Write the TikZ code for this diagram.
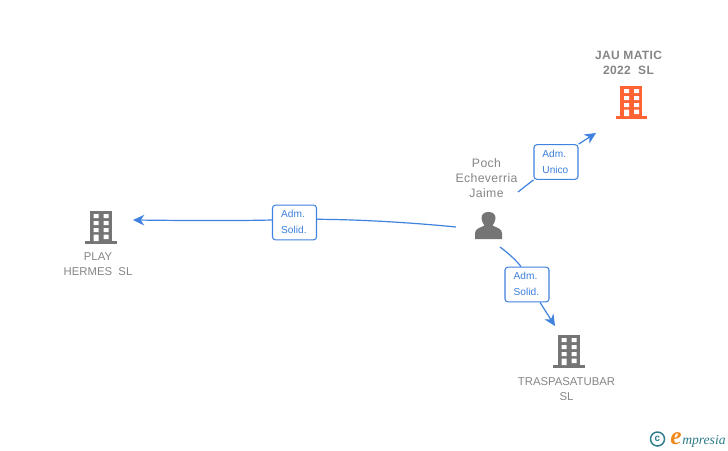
\documentclass[tikz,border=0pt]{standalone}
\usepackage{fontspec}
\setmainfont{Liberation Sans}
\newfontfamily\logofont{Liberation Serif}
\newfontfamily\spacedfont[LetterSpace=3]{Liberation Sans}
\newfontfamily\spacedboldfont[LetterSpace=3,BoldFont={Liberation Sans Bold}]{Liberation Sans}
\definecolor{linkblue}{HTML}{3F82E0}
\definecolor{labelblue}{HTML}{3C7FDC}
\definecolor{icongray}{HTML}{757575}
\definecolor{textgray}{HTML}{868686}
\definecolor{iconorange}{HTML}{FF6333}
\definecolor{logoteal}{HTML}{2F7C8C}
\definecolor{logoorange}{HTML}{F08A1D}
\usetikzlibrary{arrows.meta}
\tikzset{
  x=0.75pt,y=-0.75pt,
  link/.style={draw=linkblue,line width=0.9pt},
  linkarrow/.style={link,-{Stealth[length=8.5pt,width=8pt]}},
  role/.style={draw=linkblue,line width=0.8pt,rounded corners=2.2pt,fill=white,minimum width=33pt,minimum height=26pt,inner sep=0pt,text=labelblue},
  caption/.style={align=center,text=textgray,inner sep=0pt},
  capbold/.style={caption,font=\spacedboldfont\bfseries\fontsize{9}{11.7}\selectfont},
  capwide/.style={caption,font=\spacedfont\fontsize{9.2}{11.2}\selectfont},
  capnarrow/.style={caption,font=\fontsize{8.5}{11.2}\selectfont},
  pics/building/.style={code={
    \fill[#1] (-11,-16) rectangle (11,15);
    \fill[#1] (-15.5,14) rectangle (16,17.3);
    \fill[white] (-7,-13) rectangle (-2,-9) (3,-13) rectangle (8,-9)
      (-7,-6) rectangle (-2,-2) (3,-6) rectangle (8,-2)
      (-7,1) rectangle (-2,5) (3,1) rectangle (8,5)
      (-7,7.5) rectangle (-2,14) (3,7.5) rectangle (8,12);
  }},
}
\newcommand{\rolelabel}[2]{\raisebox{-0.7pt}{\hspace{-0.9pt}\begin{tabular}{@{}l@{}}\fontsize{7.6}{11.2}\selectfont #1\\\fontsize{7.6}{11.2}\selectfont #2\end{tabular}}}
\begin{document}
\begin{tikzpicture}
\useasboundingbox (0,0) rectangle (728,450);
\fill[white] (0,0) rectangle (728,450);
% icons
\pic at (631,102) {building=iconorange};
\pic at (100.5,227) {building=icongray};
\pic at (568.5,351) {building=icongray};
\fill[icongray] (475,239) -- (475,233) .. controls (475,228.5) and (481,227.5) .. (484.5,225.5)
  .. controls (482,222) and (481.5,219.5) .. (481.5,218) .. controls (481.5,214) and (484.5,212) .. (488.5,212)
  .. controls (492.5,212) and (495.5,214) .. (495.5,218) .. controls (495.5,219.5) and (495,222) .. (492.5,225.5)
  .. controls (496,227.5) and (502,228.5) .. (502,233) -- (502,239) -- cycle;
% texts
\node[capbold] (jau) at (628.5,63) {JAU MATIC\\2022\ \ SL};
\node[capwide] (poch) at (486.5,178) {Poch\\Echeverria\\Jaime};
\node[capnarrow] (play) at (98,264) {PLAY\\HERMES\ \ SL};
\node[capnarrow] (tras) at (566.5,389) {TRASPASATUBAR\\SL};
% labels
\node[role] (rolea) at (556,162) {\rolelabel{Adm.}{Unico}};
\node[role] (roleb) at (294.5,222.5) {\rolelabel{Adm.}{Solid.}};
\node[role] (rolec) at (527,284.5) {\rolelabel{Adm.}{Solid.}};
% free ends
\coordinate (aS) at (518,192);
\coordinate (aT) at (596,133);
\coordinate (bS) at (456,227);
\coordinate (bT) at (133,220);
\coordinate (cS) at (500,247);
\coordinate (cT) at (555,326);
% connectors
\draw[link] (aS) -- (rolea.south west);
\draw[linkarrow] (rolea.north east) -- (aT);
\draw[link] (bS) .. controls (410,222.5) and (360,219.5) .. (roleb.east |- 0,219.3);
\draw[linkarrow] (roleb.west |- 0,220) .. controls (230,221) and (180,220.5) .. (bT);
\draw[link] (cS) .. controls (508,253) and (516,260) .. (rolec.north -| 521,0);
\draw[linkarrow] (rolec.south -| 540,0) -- (cT);
% logo
\node[circle,draw=logoteal,line width=1.1pt,minimum size=10.5pt,inner sep=0pt,text=logoteal,font=\bfseries\fontsize{7.5}{7.5}\selectfont] (copy) at (657.5,439) {c};
\node[anchor=base west,inner sep=0pt,text=logoorange,font=\logofont\itshape\bfseries\fontsize{19}{19}\selectfont] (logoe) at (670,444) {e};
\node[anchor=base west,inner sep=0pt,text=logoteal,font=\logofont\itshape\fontsize{10.2}{10}\selectfont] (logot) at (682,444) {mpresia};
\end{tikzpicture}
\end{document}
